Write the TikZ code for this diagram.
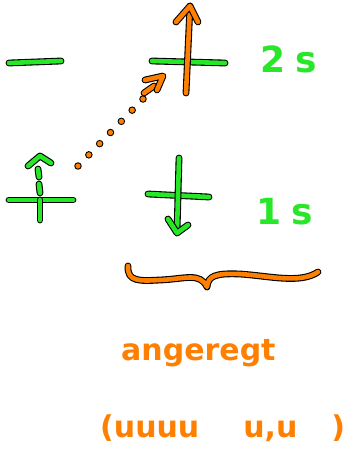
\documentclass[tikz,border=0pt]{standalone}
\usepackage{fontspec}
\setmainfont{DejaVu Sans}
\definecolor{pengreen}{RGB}{40,230,40}
\definecolor{penorange}{RGB}{255,128,0}
\tikzset{
  penstroke/.style={line cap=round,line join=round,line width=4.6pt,
    preaction={draw=black,line width=6.8pt,line cap=round,line join=round}},
  greenpen/.style={penstroke,draw=pengreen},
  orangepen/.style={penstroke,draw=penorange},
  dotmark/.style={circle,fill=penorange,draw=black,line width=0.9pt,inner sep=0pt,minimum size=6.5pt},
  gtext/.style={text=pengreen,font=\fontsize{36}{36}\selectfont\bfseries,inner sep=0pt},
  otext/.style={text=penorange,font=\fontsize{30}{30}\selectfont\bfseries,inner sep=0pt}
}
\begin{document}
\begin{tikzpicture}[x=1pt,y=-1pt]
\useasboundingbox (0,0) rectangle (357,452);
\fill[white] (0,0) rectangle (357,452);
% top left level
\coordinate (tlA) at (9,63);
\coordinate (tlB) at (61,61);
\draw[greenpen] (tlA) -- (tlB);
% top middle level
\coordinate (tmA) at (152,61);
\coordinate (tmB) at (225,63);
\draw[greenpen] (tmA) -- (tmB);
% orange spin up arrow
\coordinate (upS) at (186,93);
\coordinate (upT) at (190,6);
\draw[orangepen] (upS) -- (upT);
\draw[orangepen] (176,22) -- (upT) -- (198,22);
% bottom left level
\coordinate (blA) at (9,200);
\coordinate (blB) at (73,200);
\draw[greenpen] (blA) -- (blB);
\draw[greenpen] (40,200) -- (40,220);
\draw[greenpen] (38,169) -- (39,177);
\draw[greenpen] (39,184) -- (40,193);
\draw[greenpen] (28,166) -- (40,156) -- (51,163);
% bottom middle level
\coordinate (bmA) at (148,194);
\coordinate (bmB) at (209,197);
\draw[greenpen] (bmA) -- (bmB);
\draw[greenpen] (179,158) -- (177,232);
\draw[greenpen] (168,219) -- (177,233) -- (188,225);
% dotted excitation arrow
\foreach \i in {0,...,6} {
  \node[dotmark] (d\i) at ({78+\i*(143-78)/6},{166+\i*(99-166)/6}) {};
}
\draw[orangepen] (144,93) -- (154,86);
\draw[orangepen] (145,80) -- (163,76) -- (157,90);
% labels
\node[gtext,anchor=base west] (l2s) at (260,72) {2\hspace{10pt}s};
\node[gtext,anchor=base west] (l1s) at (256,224) {1\hspace{10pt}s};
% brace
\coordinate (brL) at (128,266);
\coordinate (brM) at (207,287);
\coordinate (brR) at (318,272);
\draw[orangepen] (brL) .. controls (127,282) and (140,281) .. (160,280)
  .. controls (185,279) and (200,272) .. (brM)
  .. controls (208,276) and (215,273) .. (240,274)
  .. controls (270,276) and (300,284) .. (brR);
% text
\node[otext,anchor=base west] (t1) at (121,360) {angeregt};
\node[otext,anchor=base west] (t2) at (100,437) {(uuuu\hspace{44pt}u,u\hspace{34pt})};
\end{tikzpicture}
\end{document}
